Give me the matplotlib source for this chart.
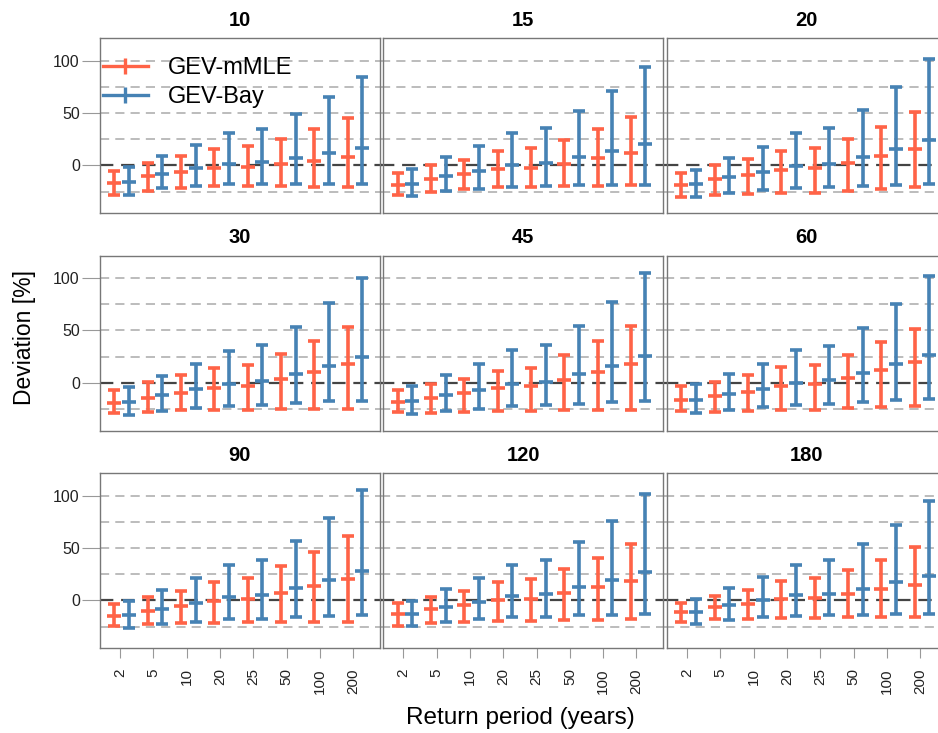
import matplotlib
matplotlib.use("Agg")
import matplotlib.pyplot as plt
from matplotlib.lines import Line2D
import numpy as np

plt.rcParams['font.family'] = ['Liberation Sans', 'DejaVu Sans']

# panel titles and return periods
panels = ["10", "15", "20", "30", "45", "60", "90", "120", "180"]
periods = ["2", "5", "10", "20", "25", "50", "100", "200"]

# GEV-mMLE: median and interval bounds, one row per panel
mle_mid = [
    [-16.6, -10.2, -6.4, -2.5, -1.9, 1.3, 4.5, 7.6],
    [-18.8, -13.0, -8.6, -3.8, -2.2, 1.6, 7.3, 12.1],
    [-18.5, -13.4, -9.2, -4.8, -2.9, 2.2, 8.6, 15.3],
    [-19.2, -14.4, -9.9, -4.5, -2.6, 3.8, 10.2, 17.6],
    [-18.2, -14.4, -10.2, -4.5, -2.9, 2.9, 10.2, 18.2],
    [-16.6, -12.8, -8.6, -3.2, -1.6, 4.8, 11.8, 19.8],
    [-15.0, -10.2, -5.7, -0.6, 1.0, 6.7, 14.0, 20.7],
    [-13.4, -8.6, -4.1, 0.0, 1.6, 6.7, 12.4, 18.2],
    [-11.5, -6.4, -3.2, 1.0, 2.2, 6.0, 10.5, 15.0],
]
mle_lo = [
    [-28.3, -24.5, -21.3, -19.7, -19.7, -19.7, -20.4, -21.0],
    [-28.7, -25.2, -22.6, -21.0, -20.7, -19.4, -19.4, -19.1],
    [-30.3, -28.3, -27.7, -26.8, -26.4, -24.5, -22.6, -20.7],
    [-29.1, -27.5, -26.2, -25.6, -25.6, -24.6, -24.6, -25.2],
    [-27.8, -28.4, -27.8, -27.2, -27.2, -26.2, -26.2, -26.2],
    [-27.2, -27.8, -26.8, -25.9, -25.6, -24.3, -23.0, -22.0],
    [-24.5, -22.6, -22.0, -21.3, -21.0, -20.4, -20.4, -20.7],
    [-24.2, -21.3, -20.4, -19.7, -19.4, -18.8, -18.8, -17.8],
    [-20.4, -17.8, -17.8, -16.6, -16.6, -15.9, -15.6, -15.6],
]
mle_hi = [
    [-5.7, 2.2, 9.2, 15.9, 18.5, 25.2, 34.7, 45.5],
    [-7.0, 0.0, 5.1, 14.0, 16.2, 24.5, 34.4, 46.2],
    [-7.0, 0.0, 6.4, 14.0, 16.6, 25.5, 36.6, 50.6],
    [-6.7, 0.6, 7.3, 14.4, 16.9, 27.2, 39.9, 53.0],
    [-7.0, -1.6, 3.8, 11.2, 14.1, 26.5, 39.6, 54.6],
    [-3.5, 1.0, 7.0, 15.0, 16.9, 26.2, 38.7, 51.4],
    [-3.5, 3.2, 9.2, 17.5, 21.0, 32.5, 46.2, 61.5],
    [-2.9, 2.9, 8.9, 17.2, 20.1, 29.6, 40.4, 53.5],
    [-2.5, 4.1, 10.2, 18.5, 21.3, 29.3, 38.9, 51.3],
]

# GEV-Bay: median and interval bounds, one row per panel
bay_mid = [
    [-15.9, -8.6, -2.5, 1.3, 2.9, 7.3, 11.8, 16.9],
    [-17.5, -10.2, -5.4, 0.0, 1.9, 8.0, 13.7, 20.0],
    [-17.8, -11.1, -6.0, -0.3, 1.6, 8.3, 15.9, 23.9],
    [-18.2, -11.8, -6.4, -1.0, 1.6, 8.3, 16.3, 24.6],
    [-17.3, -12.1, -7.3, -1.3, 1.0, 8.0, 16.3, 25.9],
    [-16.0, -10.9, -5.8, 0.0, 2.2, 9.3, 17.6, 26.8],
    [-14.0, -8.3, -2.9, 2.9, 4.8, 11.5, 19.4, 28.0],
    [-12.7, -6.4, -1.3, 4.1, 6.0, 12.4, 19.1, 26.8],
    [-11.1, -4.5, 0.0, 4.8, 6.4, 11.1, 17.2, 23.2],
]
bay_lo = [
    [-28.0, -22.0, -19.4, -18.2, -18.2, -18.2, -18.2, -18.2],
    [-29.6, -24.8, -22.6, -20.4, -19.7, -19.1, -18.8, -18.8],
    [-30.3, -26.4, -23.9, -21.7, -21.0, -19.4, -18.5, -17.8],
    [-30.7, -27.2, -24.0, -21.7, -20.8, -19.2, -17.6, -16.9],
    [-29.4, -27.2, -24.6, -22.4, -21.4, -19.8, -18.5, -17.6],
    [-28.4, -25.9, -23.3, -20.8, -20.1, -18.5, -16.6, -15.7],
    [-26.1, -22.6, -20.4, -18.2, -17.5, -15.9, -15.0, -14.3],
    [-24.5, -20.7, -17.8, -15.9, -15.6, -14.3, -13.7, -13.4],
    [-22.3, -18.5, -15.9, -14.6, -14.3, -13.7, -13.4, -13.4],
]
bay_hi = [
    [-1.9, 9.2, 19.7, 30.9, 35.0, 49.0, 65.6, 84.0],
    [-3.5, 8.3, 18.2, 30.9, 35.4, 51.6, 70.7, 93.6],
    [-4.1, 7.0, 17.5, 30.6, 35.4, 53.2, 74.8, 101.0],
    [-3.8, 6.7, 17.9, 30.7, 35.8, 53.0, 75.7, 100.0],
    [-2.6, 7.0, 17.6, 31.6, 35.8, 54.0, 77.0, 104.5],
    [-1.6, 8.0, 17.6, 31.0, 35.1, 52.7, 75.1, 101.9],
    [-0.3, 10.2, 21.0, 33.8, 38.9, 57.0, 79.0, 105.7],
    [-0.3, 10.5, 21.3, 34.1, 38.9, 55.7, 76.1, 101.9],
    [1.3, 12.1, 22.0, 34.0, 38.5, 53.8, 72.3, 94.6],
]

RED = "tomato"
BLUE = "steelblue"
W, H = 938, 733

fig = plt.figure(figsize=(W / 100, H / 100), dpi=100)

col_left = [100, 383.3, 667]
row_top = [38.3, 255.7, 473.3]
pw, ph = 279.5, 175

x = np.arange(1, len(periods) + 1)
eb_kw = dict(fmt="_", ms=10, mew=2.6, elinewidth=2.6, capsize=4.3, capthick=2.6)

for k, title in enumerate(panels):
    r, c = divmod(k, 3)
    ax = fig.add_axes([col_left[c] / W, 1 - (row_top[r] + ph) / H, pw / W, ph / H])

    # gridlines (reach into the small gaps between panels)
    x0 = 0 if c == 0 else -0.008
    for g in [-25, 25, 50, 75, 100]:
        ax.plot([x0, 1.008], [g, g], transform=ax.get_yaxis_transform(), clip_on=False,
                color="#aaaaaa", lw=1.1, ls=(0, (6, 4)), zorder=0)
    ax.plot([x0, 1.008], [0, 0], transform=ax.get_yaxis_transform(), clip_on=False,
            color="#444444", lw=1.6, ls=(0, (6, 3.5)), zorder=0)

    mm, ml, mh = np.array(mle_mid[k]), np.array(mle_lo[k]), np.array(mle_hi[k])
    bm, bl, bh = np.array(bay_mid[k]), np.array(bay_lo[k]), np.array(bay_hi[k])
    ax.errorbar(x - 0.17, mm, yerr=[mm - ml, mh - mm], color=RED, **eb_kw)
    ax.errorbar(x + 0.27, bm, yerr=[bm - bl, bh - bm], color=BLUE, **eb_kw)

    ax.set_xlim(0.4, 8.79)
    ax.set_ylim(-45.7, 121.2)
    ax.set_title(title, fontsize=14.5, fontweight="bold", pad=9)

    for s in ax.spines.values():
        s.set_color("#777777")
        s.set_linewidth(1.0)

    ax.set_yticks([0, 50, 100])
    ax.tick_params(axis="y", length=13, width=0.8, color="#999999", pad=1.5,
                   labelsize=11.5, labelcolor="#222222")
    if c != 0:
        ax.tick_params(axis="y", left=False, labelleft=False)
    else:
        ax.yaxis.get_major_ticks()[0].tick1line.set_color("#444444")

    ax.set_xticks(x)
    if r == 2:
        ax.set_xticklabels(periods, rotation=90)
        ax.tick_params(axis="x", length=7.2, width=0.8, color="#999999", pad=7,
                       labelsize=11, labelcolor="#222222")
    else:
        ax.tick_params(axis="x", bottom=False, labelbottom=False)

    if k == 0:
        handles = [
            Line2D([], [], color=RED, lw=2.4, marker="|", ms=12, mew=2.4),
            Line2D([], [], color=BLUE, lw=2.4, marker="|", ms=12, mew=2.4),
        ]
        ax.legend(handles, ["GEV-mMLE", "GEV-Bay"], loc="upper left",
                  bbox_to_anchor=(103 / W, 1 - 57 / H), bbox_transform=fig.transFigure,
                  frameon=False, fontsize=17, borderpad=0, borderaxespad=0,
                  handlelength=1.9, handletextpad=0.85, labelspacing=0.3)

fig.text(520 / W, 1 - 718 / H, "Return period (years)", fontsize=17.5,
         ha="center", va="center")
fig.text(25 / W, 1 - 338 / H, "Deviation [%]", fontsize=16.5, rotation=90,
         ha="center", va="center")

fig.savefig("out.png", dpi=100)
